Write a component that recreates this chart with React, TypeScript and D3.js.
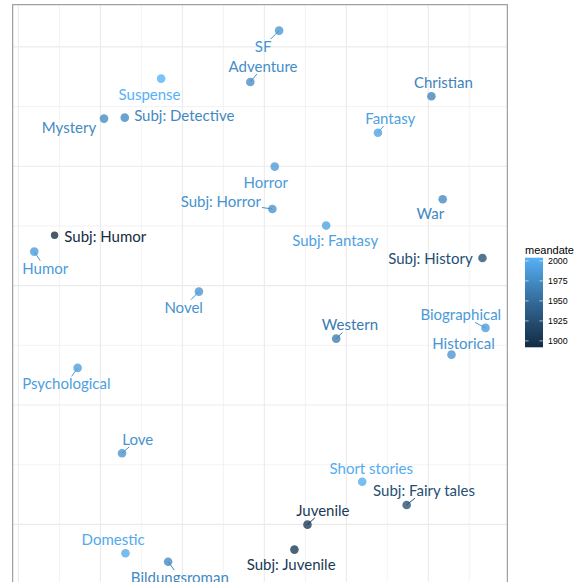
import React, { useMemo } from "react";
import * as d3 from "d3";

// ---- data ----
const genres = [
  "SF", "Adventure", "Suspense", "Subj: Detective", "Mystery", "Horror",
  "Christian", "Fantasy", "War", "Subj: Horror", "Subj: Humor", "Humor",
  "Novel", "Psychological", "Subj: Fantasy", "Subj: History", "Biographical",
  "Western", "Historical", "Love", "Domestic", "Bildungsroman",
  "Subj: Juvenile", "Short stories", "Subj: Fairy tales", "Juvenile",
];
const xValues = [
  0.018, -0.0171, -0.1259, -0.1703, -0.1956, 0.0127,
  0.2038, 0.1386, 0.2176, 0.0098, -0.2559, -0.2807,
  -0.0798, -0.2278, 0.0754, 0.2661, 0.2698,
  0.0877, 0.2283, -0.1736, -0.1694, -0.1174,
  0.0367, 0.1194, 0.1736, 0.0526,
];
const yValues = [
  0.2136, 0.1706, 0.1734, 0.1407, 0.1399, 0.0997,
  0.1586, 0.1281, 0.0724, 0.0642, 0.0422, 0.0285,
  -0.005, -0.0689, 0.0503, 0.0232, -0.0354,
  -0.0444, -0.0578, -0.1404, -0.2241, -0.2312,
  -0.2211, -0.1642, -0.1837, -0.2002,
];
const meandate = [
  1983, 1976, 2004, 1972, 1974, 1986,
  1968, 1992, 1972, 1980, 1892, 1986,
  1982, 1990, 1992, 1925, 1986,
  1962, 1982, 1980, 1998, 1972,
  1905, 2000, 1925, 1905,
];
const legendBreaks = [1900, 1925, 1950, 1975, 2000];
const xMajor = [-0.3, -0.2, -0.1, 0, 0.1, 0.2];
const xMinor = [-0.25, -0.15, -0.05, 0.05, 0.15, 0.25];
const yMajor = [-0.2, -0.1, 0, 0.1, 0.2];
const yMinor = [-0.15, -0.05, 0.05, 0.15];

// label placement (repelled offsets, px) and whether a leader segment is drawn
const labelDx = [
  -16, 12.7, -11.6, 59.5, -35, -9,
  12, 12.3, -12.3, -51.6, 50.7, 11,
  -15.3, -11.3, 9, -52, -24.7,
  13.7, 12, 15.7, -12.4, 11.7,
  -3.3, 9, 17.4, 15.4,
];
const labelDy = [
  16, -15.3, 16.3, -1.7, 8.6, 16,
  -14, -14.4, 14.7, -7.3, 1.4, 16.6,
  15.6, 16, 15, 1, -13,
  -13.7, -11.4, -14, -14, 16,
  14.6, -13, -14.3, -14.4,
];
const hasSegment = [
  1, 1, 0, 0, 0, 0,
  0, 1, 0, 1, 0, 1,
  1, 1, 0, 0, 1,
  1, 0, 1, 0, 1,
  0, 0, 1, 1,
];

const W = 583;
const H = 582;
const FONT = "Lato, 'Open Sans', sans-serif";
const FS = 15;

export default function App() {
  const x = d3.scaleLinear().domain([-0.307, 0.2964]).range([12.7, 507.3]);
  const y = d3.scaleLinear().domain([-0.27, 0.2353]).range([608, 4.7]);
  const dMin = d3.min(meandate) as number;
  const dMax = d3.max(meandate) as number;
  const color = d3
    .scaleSequential(d3.interpolateLab("#132B43", "#56B1F7"))
    .domain([dMin, dMax]);

  const widths = useMemo(() => {
    const c = document.createElement("canvas").getContext("2d")!;
    c.font = `${FS}px Lato`;
    return genres.map((g) => c.measureText(g).width);
  }, []);

  const [x0, x1] = x.range();
  const [yb, yt] = y.range();

  // legend geometry
  const lgX = 525;
  const lgW = 18;
  const lgTop = 257.7;
  const lgBot = 347.3;
  const ly = d3.scaleLinear().domain([dMin, dMax]).range([lgBot, lgTop]);
  const stops = d3.range(0, 1.0001, 0.05);

  const items = genres.map((g, i) => {
    const px = x(xValues[i]);
    const py = y(yValues[i]);
    const cx = px + labelDx[i];
    const cy = py + labelDy[i];
    const hw = widths[i] / 2 + 1;
    const hh = 7.5;
    const dx = px - cx;
    const dy = py - cy;
    const t = Math.min(
      dx === 0 ? Infinity : hw / Math.abs(dx),
      dy === 0 ? Infinity : hh / Math.abs(dy)
    );
    const nx = cx + t * dx;
    const ny = cy + t * dy;
    return { g, i, px, py, cx, cy, nx, ny, col: color(meandate[i]) };
  });

  return (
    <svg
      width={W}
      height={H}
      style={{ position: "absolute", left: 0, top: 0, background: "#fff" }}
    >
      <defs>
        <clipPath id="panel">
          <rect x={x0} y={yt} width={x1 - x0} height={yb - yt} />
        </clipPath>
        <linearGradient id="lg" x1="0" y1="1" x2="0" y2="0">
          {stops.map((t) => (
            <stop
              key={t}
              offset={t}
              stopColor={color(dMin + t * (dMax - dMin))}
            />
          ))}
        </linearGradient>
      </defs>
      <g clipPath="url(#panel)">
        <rect x={x0} y={yt} width={x1 - x0} height={yb - yt} fill="#fff" />
        {xMinor.map((v) => (
          <line key={"xm" + v} x1={x(v)} x2={x(v)} y1={yt} y2={yb} stroke="#ebebeb" strokeWidth={0.6} />
        ))}
        {yMinor.map((v) => (
          <line key={"ym" + v} x1={x0} x2={x1} y1={y(v)} y2={y(v)} stroke="#ebebeb" strokeWidth={0.6} />
        ))}
        {xMajor.map((v) => (
          <line key={"xM" + v} x1={x(v)} x2={x(v)} y1={yt} y2={yb} stroke="#ebebeb" strokeWidth={1.1} />
        ))}
        {yMajor.map((v) => (
          <line key={"yM" + v} x1={x0} x2={x1} y1={y(v)} y2={y(v)} stroke="#ebebeb" strokeWidth={1.1} />
        ))}
        {items.map((d) =>
          hasSegment[d.i] ? (
            <line key={"s" + d.i} x1={d.px} y1={d.py} x2={d.nx} y2={d.ny} stroke={d.col} strokeWidth={1} />
          ) : null
        )}
        {items.map((d) => (
          <circle key={"p" + d.i} cx={d.px} cy={d.py} r={d.i === 10 ? 3.7 : 4.3} fill={d.col} fillOpacity={0.78} />
        ))}
        {items.map((d) => (
          <text
            key={"t" + d.i}
            x={d.cx}
            y={d.cy + 5.4}
            textAnchor="middle"
            fontFamily={FONT}
            fontSize={FS}
            fill={d.col}
          >
            {d.g}
          </text>
        ))}
      </g>
      <rect x={x0} y={yt} width={x1 - x0} height={yb - yt} fill="none" stroke="#8a8a8a" strokeWidth={1} />

      {/* legend */}
      <text x={lgX} y={253.5} fontFamily="'Liberation Sans', Arial, sans-serif" fontSize={11} fill="#000">
        meandate
      </text>
      <rect x={lgX} y={lgTop} width={lgW} height={lgBot - lgTop} fill="url(#lg)" />
      {legendBreaks.map((b) => (
        <g key={b}>
          <line x1={lgX} x2={lgX + lgW * 0.2} y1={ly(b)} y2={ly(b)} stroke="#fff" strokeWidth={0.6} />
          <line x1={lgX + lgW * 0.8} x2={lgX + lgW} y1={ly(b)} y2={ly(b)} stroke="#fff" strokeWidth={0.6} />
          <text
            x={lgX + lgW + 5}
            y={ly(b)}
            dy="0.35em"
            fontFamily="'Liberation Sans', Arial, sans-serif"
            fontSize={8.8}
            fill="#000"
          >
            {b}
          </text>
        </g>
      ))}
    </svg>
  );
}
